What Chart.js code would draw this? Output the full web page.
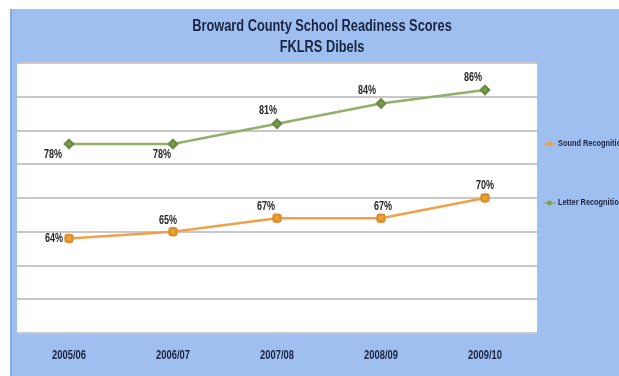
<!DOCTYPE html>
<html>
<head>
<meta charset="utf-8">
<script src="https://cdn.jsdelivr.net/npm/chart.js@4.4.0/dist/chart.umd.min.js"></script>
<style>
html,body{margin:0;padding:0;background:#fff;}
#wrap{width:619px;height:376px;position:relative;}
</style>
</head>
<body>
<div id="wrap"><canvas id="c" width="619" height="376"></canvas></div>
<script>
const categories = ['2005/06','2006/07','2007/08','2008/09','2009/10'];
const soundRecognition = [64, 65, 67, 67, 70];
const letterRecognition = [78, 78, 81, 84, 86];
const seriesNames = ['Sound Recognition', 'Letter Recognition'];
const titleLines = ['Broward County School Readiness Scores', 'FKLRS Dibels'];

const FONT = '"Liberation Sans", Arial, sans-serif';
const BLUE = '#9ebff0';
const NAVY = '#1a2440';

function condensedText(ctx, text, x, y, sx) {
  ctx.save();
  ctx.translate(x, y);
  ctx.scale(sx, 1);
  ctx.fillText(text, 0, 0);
  ctx.restore();
}

const bgPlugin = {
  id: 'bg',
  beforeDraw(chart) {
    const ctx = chart.ctx, a = chart.chartArea;
    ctx.save();
    ctx.fillStyle = '#ffffff';
    ctx.fillRect(0, 0, chart.width, chart.height);
    ctx.fillStyle = BLUE;
    ctx.fillRect(10, 9, chart.width - 10, chart.height - 9);
    ctx.fillStyle = '#86a9df';
    ctx.fillRect(10, 9, 2, chart.height - 9);
    ctx.fillStyle = '#ffffff';
    ctx.fillRect(a.left, a.top, a.right - a.left, a.bottom - a.top);
    ctx.restore();
  }
};

const titlePlugin = {
  id: 'condTitle',
  afterDraw(chart) {
    const ctx = chart.ctx;
    ctx.save();
    ctx.font = 'bold 16px ' + FONT;
    ctx.fillStyle = NAVY;
    ctx.textAlign = 'center';
    ctx.textBaseline = 'middle';
    condensedText(ctx, titleLines[0], 322, 27, 0.8);
    condensedText(ctx, titleLines[1], 322, 48, 0.8);
    ctx.restore();
  }
};

const xLabelPlugin = {
  id: 'xLabels',
  afterDraw(chart) {
    const ctx = chart.ctx, xs = chart.scales.x;
    ctx.save();
    ctx.font = 'bold 12px ' + FONT;
    ctx.fillStyle = NAVY;
    ctx.textAlign = 'center';
    ctx.textBaseline = 'middle';
    chart.data.labels.forEach((lab, i) => {
      condensedText(ctx, lab, xs.getPixelForTick(i), chart.chartArea.bottom + 23, 0.78);
    });
    ctx.restore();
  }
};

const labelOffsets = [
  [[-15, 0], [-5, -11], [-11, -12], [2, -12], [0, -12]],
  [[-16, 11], [-11, 11], [-9, -13], [-14, -13], [-12, -12]]
];

const labelPlugin = {
  id: 'vlabels',
  afterDatasetsDraw(chart) {
    const ctx = chart.ctx;
    ctx.save();
    ctx.font = 'bold 12px ' + FONT;
    ctx.fillStyle = '#262626';
    ctx.textAlign = 'center';
    ctx.textBaseline = 'middle';
    chart.data.datasets.forEach((ds, di) => {
      const meta = chart.getDatasetMeta(di);
      meta.data.forEach((pt, i) => {
        const o = labelOffsets[di][i];
        condensedText(ctx, ds.data[i] + '%', pt.x + o[0], pt.y + o[1], 0.75);
      });
    });
    ctx.restore();
  }
};

const legendPlugin = {
  id: 'customLegend',
  afterDraw(chart) {
    const ctx = chart.ctx;
    const ys = [144, 203];
    ctx.save();
    ctx.font = 'bold 9px ' + FONT;
    ctx.textBaseline = 'middle';
    ctx.textAlign = 'left';
    chart.data.datasets.forEach((ds, di) => {
      const y = ys[di];
      ctx.strokeStyle = ds.borderColor;
      ctx.lineWidth = 1.5;
      ctx.beginPath();
      ctx.moveTo(543, y);
      ctx.lineTo(556, y);
      ctx.stroke();
      ctx.fillStyle = ds.pointBackgroundColor;
      ctx.beginPath();
      ctx.arc(549.5, y, 2.4, 0, Math.PI * 2);
      ctx.fill();
      ctx.fillStyle = NAVY;
      condensedText(ctx, ds.label, 558, y, 0.82);
    });
    ctx.restore();
  }
};

new Chart(document.getElementById('c'), {
  type: 'line',
  data: {
    labels: categories,
    datasets: [
      {
        label: seriesNames[0],
        data: soundRecognition,
        borderColor: '#f0a04a',
        backgroundColor: '#eba23c',
        pointBackgroundColor: '#eba23c',
        pointBorderColor: '#d98f2a',
        pointStyle: 'rectRounded',
        pointRadius: 4,
        borderWidth: 2.5,
        tension: 0
      },
      {
        label: seriesNames[1],
        data: letterRecognition,
        borderColor: '#93b06a',
        backgroundColor: '#7d9d52',
        pointBackgroundColor: '#7d9d52',
        pointBorderColor: '#6c8c44',
        pointStyle: 'rectRot',
        pointRadius: 4,
        borderWidth: 2.5,
        tension: 0
      }
    ]
  },
  options: {
    responsive: false,
    animation: false,
    devicePixelRatio: 1,
    layout: { padding: { left: 17, right: 82, top: 63, bottom: 0 } },
    plugins: {
      legend: { display: false },
      tooltip: { enabled: false },
      title: { display: false }
    },
    scales: {
      x: {
        offset: true,
        border: { display: false },
        grid: { display: false, drawTicks: false },
        ticks: { display: false },
        afterFit(scale) { scale.height = 43; }
      },
      y: {
        min: 50,
        max: 90,
        border: { display: false },
        grid: { color: '#c8c8c8', lineWidth: 2, drawTicks: false },
        ticks: { display: false, stepSize: 5 },
        afterFit(scale) { scale.width = 0; }
      }
    }
  },
  plugins: [bgPlugin, labelPlugin, titlePlugin, xLabelPlugin, legendPlugin]
});
</script>
</body>
</html>
